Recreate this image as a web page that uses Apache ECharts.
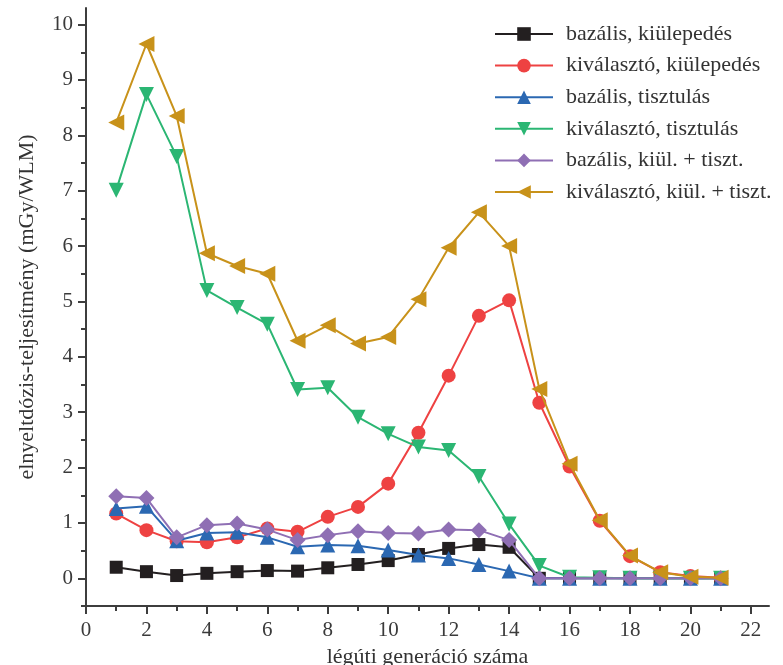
<!DOCTYPE html>
<html>
<head>
<meta charset="utf-8">
<script src="https://cdn.jsdelivr.net/npm/echarts@6/dist/echarts.min.js"></script>
<style>
html,body{margin:0;padding:0;background:#fff;}
#c{width:783px;height:665px;}
</style>
</head>
<body>
<div id="c"></div>
<script>
const generations = [1,2,3,4,5,6,7,8,9,10,11,12,13,14,15,16,17,18,19,20,21];
const seriesNames = ['bazális, kiülepedés','kiválasztó, kiülepedés','bazális, tisztulás','kiválasztó, tisztulás','bazális, kiül. + tiszt.','kiválasztó, kiül. + tiszt.'];
const bazalisKiulepedes = [0.20,0.12,0.05,0.09,0.12,0.14,0.13,0.19,0.25,0.32,0.43,0.54,0.61,0.56,0,0,0,0,0,0,0];
const kivalasztoKiulepedes = [1.17,0.87,0.67,0.65,0.74,0.90,0.84,1.11,1.29,1.71,2.63,3.66,4.74,5.02,3.17,2.02,1.04,0.40,0.11,0.04,0.01];
const bazalisTisztulas = [1.26,1.30,0.68,0.82,0.83,0.74,0.57,0.60,0.59,0.51,0.42,0.36,0.25,0.13,0,0,0,0,0,0,0];
const kivalasztoTisztulas = [7.01,8.74,7.62,5.20,4.89,4.59,3.41,3.44,2.91,2.61,2.37,2.31,1.84,0.98,0.23,0.02,0.01,0,0,0,0];
const bazalisOsszes = [1.48,1.45,0.74,0.96,0.99,0.88,0.69,0.78,0.85,0.82,0.81,0.88,0.87,0.69,0,0,0,0,0,0,0];
const kivalasztoOsszes = [8.23,9.65,8.35,5.87,5.64,5.50,4.29,4.57,4.24,4.36,5.04,5.97,6.61,6.00,3.42,2.07,1.05,0.41,0.11,0.03,0.01];
const xTicks = [0,2,4,6,8,10,12,14,16,18,20,22];
const xMinorTicks = [1,3,5,7,9,11,13,15,17,19,21];
const yTicks = [0,1,2,3,4,5,6,7,8,9,10];
const yMinorTicks = [-0.5,0.5,1.5,2.5,3.5,4.5,5.5,6.5,7.5,8.5,9.5];
const xTitle = 'légúti generáció száma';
const yTitle = 'elnyeltdózis-teljesítmény (mGy/WLM)';

const FONT = '"Liberation Serif", "DejaVu Serif", serif';
const AX = '#3d3d3d';
const colors = ['#231f20','#ee4242','#2b68b2','#2bb673','#8f6fb4','#c8921a'];
const symbols = ['rect','circle','triangle','triangle','diamond','triangle'];
const rotates = [0,0,0,180,0,90];
const sizes = [13,14,15,15,16,16];
const values = [bazalisKiulepedes,kivalasztoKiulepedes,bazalisTisztulas,kivalasztoTisztulas,bazalisOsszes,kivalasztoOsszes];

const chart = echarts.init(document.getElementById('c'), null, {renderer:'canvas'});
const series = values.map((v,i)=>({
  name: seriesNames[i],
  type: 'line',
  xAxisIndex: 0, yAxisIndex: 0,
  data: generations.map((g,j)=>[g, v[j]]),
  symbol: symbols[i],
  symbolRotate: rotates[i],
  symbolSize: sizes[i],
  showAllSymbol: true,
  color: colors[i],
  lineStyle: {width: 2, color: colors[i]},
  itemStyle: {color: colors[i]},
  z: 2 + i,
  animation: false
}));

chart.setOption({
  animation: false,
  grid: {left: 86, right: 14, top: 8, bottom: 59, containLabel: false, outerBoundsMode: 'none'},
  legend: {
    orient: 'vertical',
    left: 494, top: 23, padding: 0,
    itemWidth: 58, itemHeight: 17, itemGap: 9.6,
    data: seriesNames,
    textStyle: {fontFamily: FONT, fontSize: 22, color: '#333', lineHeight: 22, padding: [0,0,0,8]}
  },
  xAxis: [{
    type: 'value', min: 0, max: 22.6, interval: 2,
    position: 'bottom',
    name: xTitle, nameLocation: 'middle', nameGap: 32,
    nameTextStyle: {fontFamily: FONT, fontSize: 22, color: '#333'},
    axisLine: {show: true, onZero: false, lineStyle: {color: AX, width: 2}},
    axisTick: {show: true, inside: false, length: 8, customValues: xTicks, lineStyle: {color: AX, width: 2}},
    axisLabel: {show: true, customValues: xTicks, margin: 14, fontFamily: FONT, fontSize: 21, color: '#3a3a3a'},
    splitLine: {show: false}
  },{
    type: 'value', min: 0, max: 22.6, interval: 2,
    position: 'bottom',
    axisLine: {show: false, onZero: false},
    axisTick: {show: true, inside: false, length: 5, customValues: xMinorTicks, lineStyle: {color: AX, width: 2}},
    axisLabel: {show: false},
    splitLine: {show: false}
  }],
  yAxis: [{
    type: 'value', min: -0.5, max: 10.3, interval: 0.5,
    position: 'left',
    name: yTitle, nameLocation: 'middle', nameGap: 48, nameRotate: 90,
    nameTextStyle: {fontFamily: FONT, fontSize: 22, color: '#333'},
    axisLine: {show: true, onZero: false, lineStyle: {color: AX, width: 2}},
    axisTick: {show: true, inside: false, length: 8, customValues: yTicks, lineStyle: {color: AX, width: 2}},
    axisLabel: {show: true, customValues: yTicks, margin: 13, fontFamily: FONT, fontSize: 21, color: '#3a3a3a'},
    splitLine: {show: false}
  },{
    type: 'value', min: -0.5, max: 10.3, interval: 0.5,
    position: 'left',
    axisLine: {show: false, onZero: false},
    axisTick: {show: true, inside: false, length: 5, customValues: yMinorTicks, lineStyle: {color: AX, width: 2}},
    axisLabel: {show: false},
    splitLine: {show: false}
  }],
  series: series
});
</script>
</body>
</html>
